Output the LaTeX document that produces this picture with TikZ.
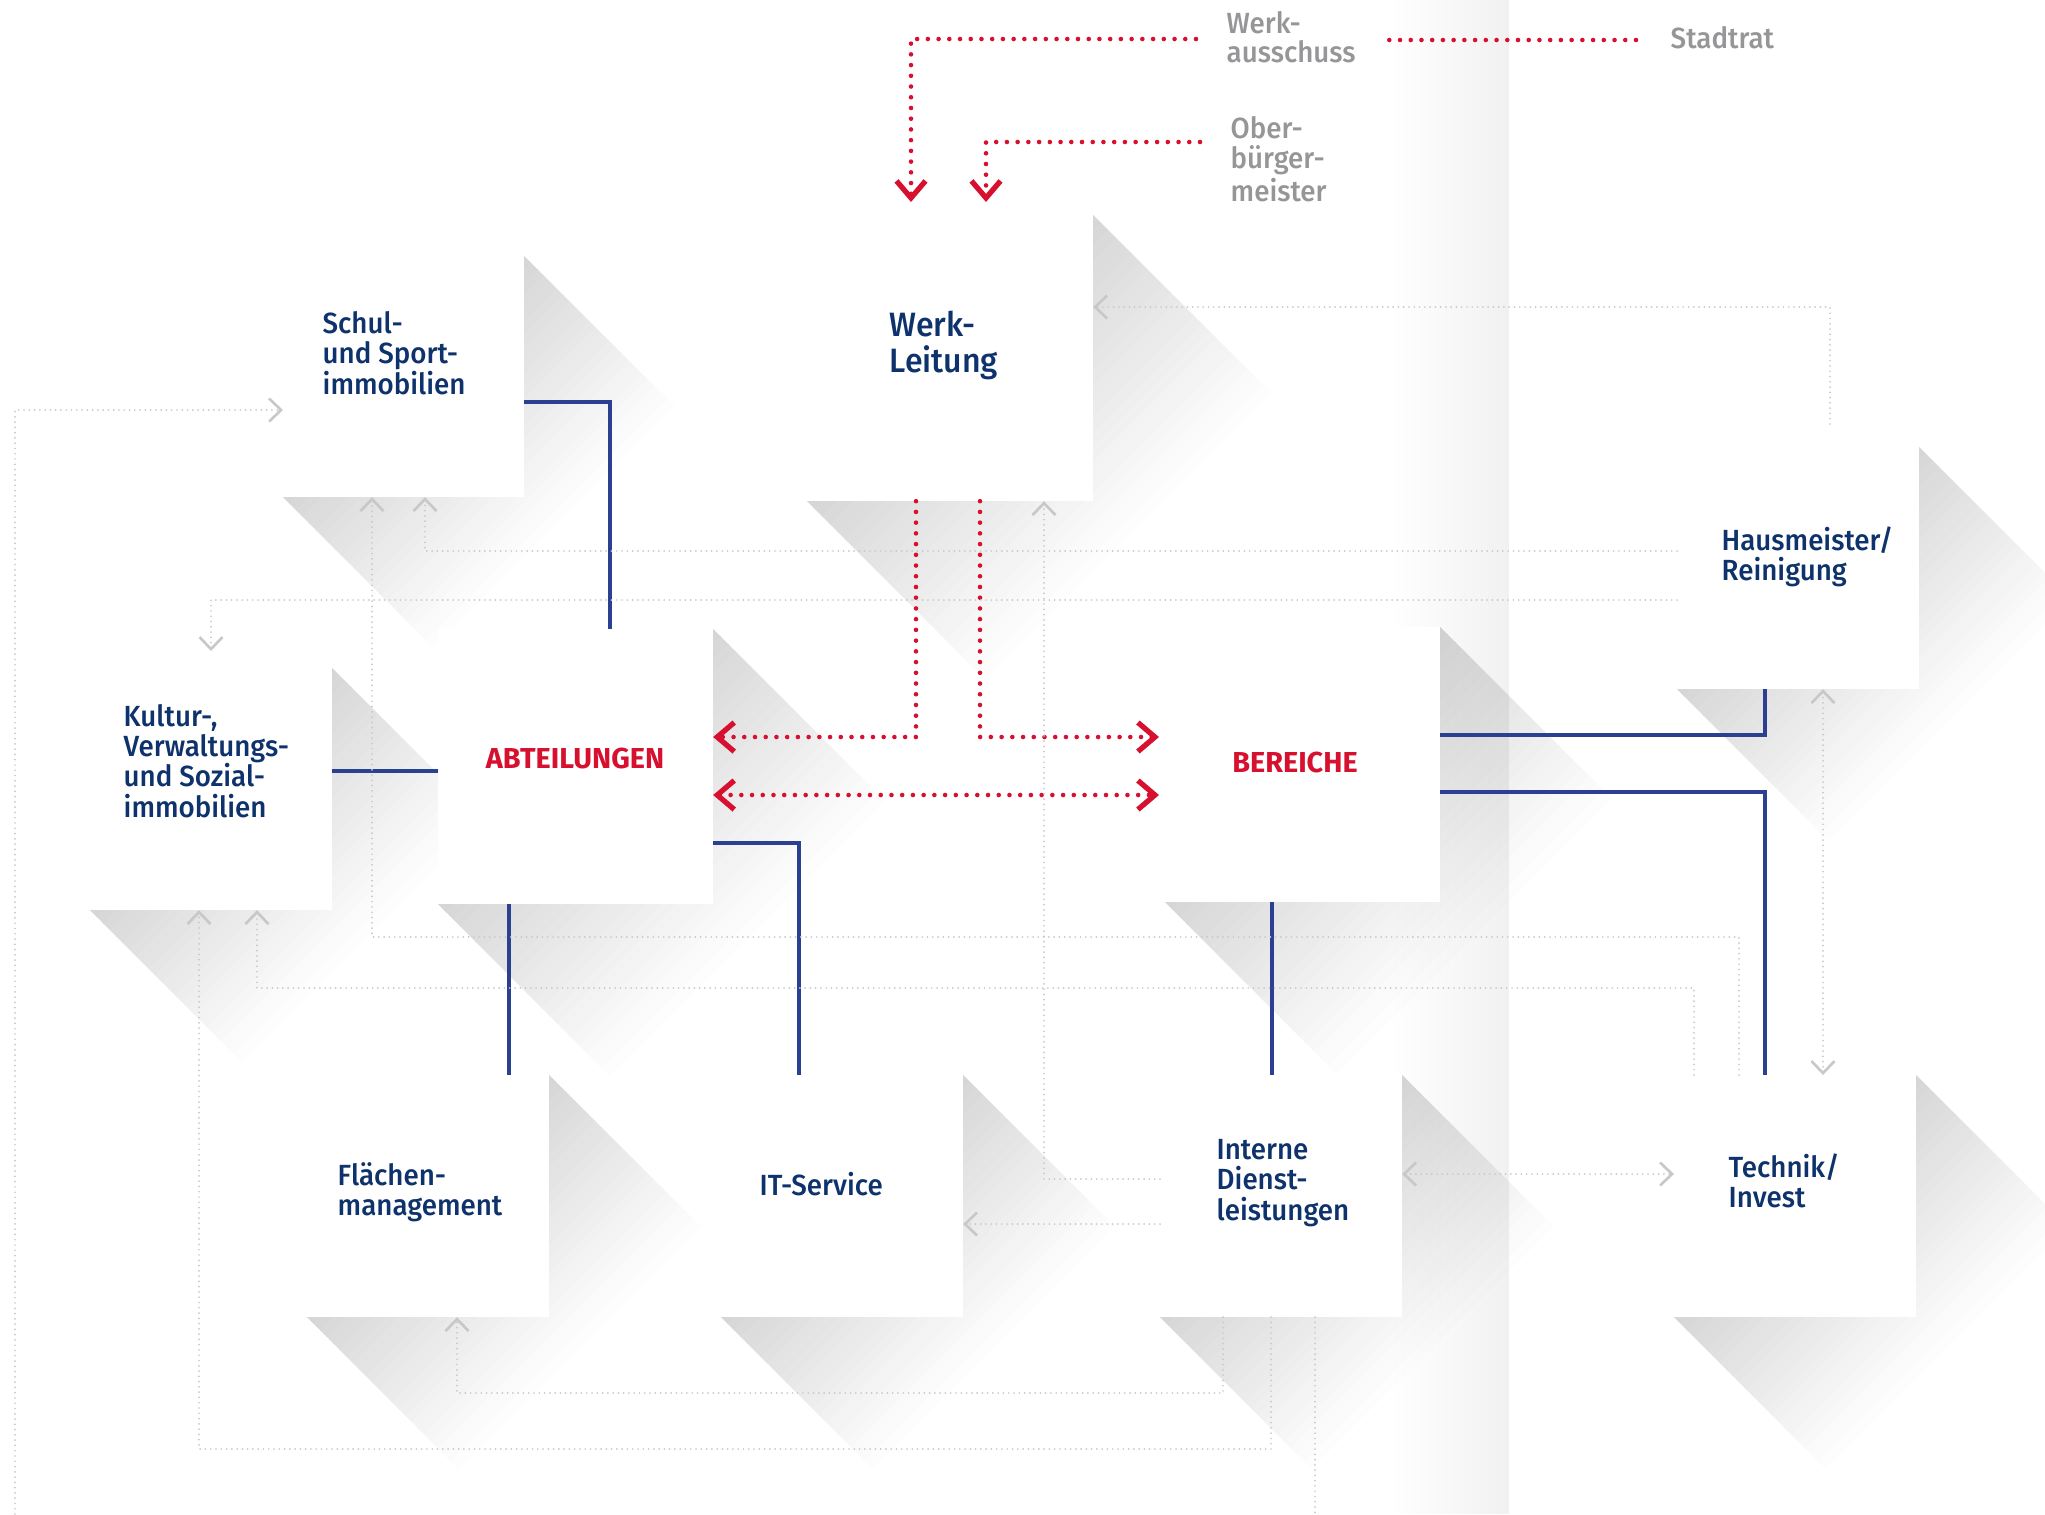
\documentclass[tikz,border=0pt]{standalone}
\usepackage{fontspec}
\setmainfont{Fira Sans}
\newfontfamily\medfont{Fira Sans Medium}[FakeStretch=0.95]
\usetikzlibrary{arrows.meta,fadings,backgrounds}

\definecolor{werkrot}{RGB}{214,16,46}
\definecolor{werkblau}{RGB}{43,64,145}
\definecolor{werknavy}{RGB}{14,50,107}
\definecolor{werkgrau}{RGB}{150,150,152}
\definecolor{liniengrau}{RGB}{200,200,202}

\tikzfading[name=fade gutter, left color=transparent!100, right color=transparent!0]

\tikzset{
  box/.style={rectangle, fill=white, inner sep=0pt, outer sep=0pt, anchor=north west, minimum size=#1},
  lbl/.style={anchor=west, inner sep=0pt, align=left, text=werknavy, font=\medfont\fontsize{8.3}{8.6}\selectfont},
  rlbl/.style={inner sep=0pt, text=werkrot, font=\bfseries\fontsize{8.2}{9}\selectfont},
  glbl/.style={anchor=west, inner sep=0pt, align=left, text=werkgrau, font=\medfont\fontsize{8.3}{8.4}\selectfont},
  bline/.style={draw=werkblau, line width=1pt},
  rline/.style={draw=werkrot, line width=1.3pt, line cap=round, dash pattern=on 0pt off 3.05pt,
    >={Straight Barb[length=1.7mm, width=2.9mm, line width=1.5pt]}},
  gline/.style={draw=liniengrau, line width=0.55pt, line cap=round, dash pattern=on 0pt off 1.5pt,
    >={Straight Barb[length=1.2mm, width=2.3mm, line width=0.75pt]}}
}

\begin{document}
\begin{tikzpicture}[x=0.01cm, y=-0.01cm]
\useasboundingbox (0,0) rectangle (2045,1514);

\node[box=2.86cm] (WL)  at (807,215)  {};
\node[box=2.41cm] (SSI) at (283,256)  {};
\node[box=2.42cm] (KVS) at (90,668)   {};
\node[box=2.75cm] (ABT) at (438,629)  {};
\node[box=2.75cm] (BER) at (1165,627) {};
\node[box=2.42cm] (HMR) at (1677,447) {};
\node[box=2.42cm] (FM)  at (307,1075) {};
\node[box=2.42cm] (IT)  at (721,1075) {};
\node[box=2.42cm] (IDL) at (1160,1075) {};
\node[box=2.42cm] (TI)  at (1674,1075) {};

\coordinate (offL) at (15,1514);
\coordinate (offR) at (1315,1514);

\begin{scope}[on background layer]
\fill[white] (0,0) rectangle (2045,1514);
% lange Schatten, in Streifen zu Weiss auslaufend
\foreach \b/\s in {WL/286, SSI/241, KVS/242, ABT/275, BER/275, HMR/242, FM/242, IT/242, IDL/242, TI/242}{
  \begin{scope}
    \clip (\b.north east) -- ([shift={(\s,\s)}]\b.north east) -- ([shift={(\s,\s)}]\b.south east)
      -- ([shift={(\s,\s)}]\b.south west) -- (\b.south west) -- (\b.center) -- cycle;
    \pgfmathsetmacro\hh{2*\s}
    \foreach \k in {0,...,22}{
      \pgfmathsetmacro\pct{16*(1-\k/23)}
      \pgfmathsetmacro\ua{\s+\k*\s*0.054}
      \pgfmathsetmacro\ub{\s+(\k+1)*\s*0.054+1.5}
      \fill[black!\pct] ([shift={(\ua,0)}]\b.north west) -- ([shift={(\ub,0)}]\b.north west)
        -- ([shift={(\ub-\hh,\hh)}]\b.north west) -- ([shift={(\ua-\hh,\hh)}]\b.north west) -- cycle;
    }
  \end{scope}
}
\fill[black, opacity=0.055, path fading=fade gutter] (1390,0) rectangle (1509,1514);
\end{scope}

% Linien Abteilungen und Bereiche
\draw[bline] (SSI.east |- 0,402) -| (ABT.north -| 610,0);
\draw[bline] (KVS.east |- 0,771) -- (ABT.west |- 0,771);
\draw[bline] (ABT.south -| 509,0) -- (FM.north -| 509,0);
\draw[bline] (ABT.east |- 0,843) -| (IT.north -| 799,0);
\draw[bline] (BER.south -| 1272,0) -- (IDL.north -| 1272,0);
\draw[bline] (BER.east |- 0,735) -| (HMR.south -| 1765,0);
\draw[bline] (BER.east |- 0,792) -| (TI.north -| 1765,0);

\node[glbl] (WA)  at (1226,37)  {Werk-\\ausschuss};
\node[glbl] (SR)  at (1670,38)  {Stadtrat};
\node[glbl] (OBM) at (1230,159) {Ober-\\bürger-\\meister};

\draw[rline,->, shorten <=0.3cm, shorten >=0.13cm] (WA.west |- 0,39) -| (WL.north -| 911,0);
\draw[rline,->, shorten <=0.3cm, shorten >=0.13cm] (OBM.west |- 0,142) -| (WL.north -| 986,0);
\draw[rline, shorten <=0.33cm, shorten >=0.3cm] (WA.east |- 0,40) -- (SR.west |- 0,40);
\draw[rline,->] (WL.south -| 916,0) |- (ABT.east |- 0,737);
\draw[rline,->, shorten >=0.06cm] (WL.south -| 980,0) |- (BER.west |- 0,737);
\draw[rline,<->, shorten >=0.06cm] (ABT.east |- 0,795) -- (BER.west |- 0,795);

% Leistungsbeziehungen
\draw[gline,->] (offL) |- (SSI.west |- 0,410);
\draw[gline,->] (HMR.west |- 0,551) -| (SSI.south -| 425,0);
\draw[gline,->, shorten >=0.17cm] (HMR.west |- 0,600) -| (KVS.north -| 211,0);
\draw[gline,->, shorten <=0.23cm] (HMR.north -| 1830,0) |- (WL.east |- 0,307);
\draw[gline,<->] (HMR.south -| 1823,0) -- (TI.north -| 1823,0);
\draw[gline,->] (TI.north -| 1739,0) -- (1739,937) -| (SSI.south -| 372,0);
\draw[gline,->] (TI.north -| 1694,0) -- (1694,988) -| (KVS.south -| 257,0);
\draw[gline,->] (IDL.south -| 1271,0) -- (1271,1449) -| (KVS.south -| 199,0);
\draw[gline,->] (IDL.south -| 1223,0) -- (1223,1393) -| (FM.south -| 457,0);
\draw[gline] (IDL.south -| 1315,0) -- (offR);
\draw[gline,->] (IDL.west |- 0,1179) -| (WL.south -| 1044,0);
\draw[gline,->] (IDL.west |- 0,1224) -- (IT.east |- 0,1224);
\draw[gline,<->] (IDL.east |- 0,1174) -- (TI.west |- 0,1174);

\node[lbl, font=\medfont\fontsize{9.6}{10.2}\selectfont] (tWL) at (889,345) {Werk-\\Leitung};
\node[lbl] (tSSI) at (322,353)  {Schul-\\und Sport-\\immobilien};
\node[lbl] (tKVS) at (123,761)  {Kultur-,\\Verwaltungs-\\und Sozial-\\immobilien};
\node[lbl] (tHMR) at (1721,557) {Hausmeister/\\Reinigung};
\node[lbl] (tFM)  at (337,1192) {Flächen-\\management};
\node[lbl] (tIT)  at (759,1184) {IT-Service};
\node[lbl] (tIDL) at (1216,1183) {Interne\\Dienst-\\leistungen};
\node[lbl] (tTI)  at (1728,1181) {Technik/\\Invest};
\node[rlbl] (tABT) at (575,758) {ABTEILUNGEN};
\node[rlbl] (tBER) at (1295,762) {BEREICHE};

\end{tikzpicture}
\end{document}
